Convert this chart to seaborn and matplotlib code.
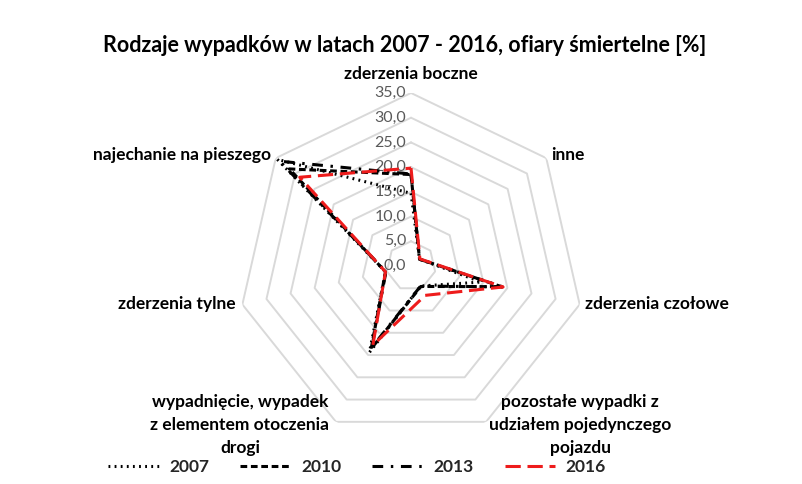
import numpy as np
import pandas as pd
import matplotlib
matplotlib.use("Agg")
import matplotlib.pyplot as plt
import seaborn as sns

# data
categories = ["zderzenia boczne", "inne", "zderzenia czołowe",
              "pozostałe wypadki z\nudziałem pojedynczego\npojazdu",
              "wypadnięcie, wypadek\nz elementem otoczenia\ndrogi",
              "zderzenia tylne", "najechanie na pieszego"]
years = ["2007", "2010", "2013", "2016"]
v2007 = [14.7, 2.2, 14.6, 4.5, 19.4, 5.3, 34.6]
v2010 = [18.5, 2.2, 18.8, 4.6, 18.6, 5.3, 31.5]
v2013 = [18.6, 2.2, 19.0, 4.5, 18.3, 5.2, 34.0]
v2016 = [19.8, 2.3, 19.1, 6.6, 17.8, 5.3, 28.8]
ticks = [0, 5, 10, 15, 20, 25, 30, 35]
title = "Rodzaje wypadków w latach 2007 - 2016, ofiary śmiertelne [%]"

sns.set_theme(style="white")
plt.rcParams["font.family"] = ["Lato", "DejaVu Sans"]

n = len(categories)
theta = np.arange(n + 1) * 2 * np.pi / n
rows = []
for y, vals in zip(years, [v2007, v2010, v2013, v2016]):
    vv = list(vals) + [vals[0]]
    for t, v in zip(theta, vv):
        rows.append({"theta": t, "r": v, "year": y})
df = pd.DataFrame(rows)

fig = plt.figure(figsize=(8.02, 4.84), dpi=100)
ax = fig.add_axes([0.2968, 0.0930, 0.4314, 0.7149], projection="polar")
ax.set_theta_zero_location("N")
ax.set_theta_direction(-1)

palette = {"2007": "black", "2010": "black", "2013": "black", "2016": "#ee1c1c"}
dashes = {"2007": (0.6, 1.4), "2010": (2.2, 1.2), "2013": (3.5, 2.5, 0.8, 2.5), "2016": (5, 2.2)}
sns.lineplot(data=df, x="theta", y="r", hue="year", style="year", palette=palette,
             dashes=dashes, sort=False, estimator=None, linewidth=2.2, legend=False,
             ax=ax, zorder=3)
handles = list(ax.get_lines())

# heptagon grid
for t in ticks[1:]:
    ax.plot(theta, [t] * (n + 1), color="#d9d9d9", lw=1.4, zorder=1)

ax.set_ylim(0, 35)
ax.grid(False)
ax.spines["polar"].set_visible(False)
ax.set_xticks([])
ax.set_yticks([])
ax.set_xlabel("")
ax.set_ylabel("")

for t in ticks:
    ax.annotate(f"{t:.1f}".replace(".", ","), xy=(0, t), xytext=(-5, 0),
                textcoords="offset pixels", ha="right", va="center",
                fontsize=11.5, color="#595959", zorder=2)

offsets = [(0, 19), (5, 3), (5, 0), (94, -3), (-96, -3), (-7, 0), (-5, 3)]
has = ["center", "left", "left", "center", "center", "right", "right"]
for k, lab in enumerate(categories):
    ax.annotate(lab, xy=(theta[k], 35), xytext=offsets[k], textcoords="offset pixels",
                ha=has[k], va="center", multialignment="center", fontsize=12.5,
                fontweight="bold", color="#000000", linespacing=1.55,
                annotation_clip=False)

fig.text(0.505, 0.907, title, ha="center", va="center", fontsize=15.5,
         fontweight="bold", color="#000000")

fig.legend(handles, years, loc="center", bbox_to_anchor=(0.445, 0.035), ncol=4,
           frameon=False, handlelength=2.9, columnspacing=1.8, handletextpad=0.6,
           prop={"weight": "bold", "size": 12.5})

fig.savefig("out.png", dpi=100)
